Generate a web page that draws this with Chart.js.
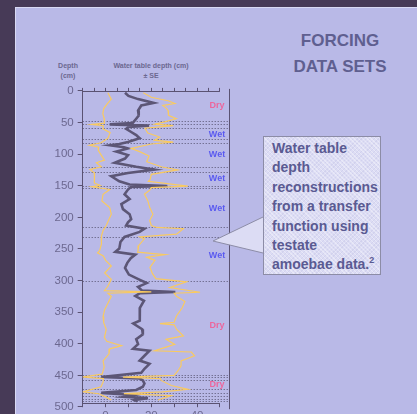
<!DOCTYPE html>
<html>
<head>
<meta charset="utf-8">
<script src="https://cdn.jsdelivr.net/npm/chart.js@4.4.0/dist/chart.umd.min.js"></script>
<style>
  html, body { margin:0; padding:0; }
  body { width:417px; height:414px; background:#473a57; position:relative; overflow:hidden;
         font-family:"Liberation Sans", Arial, sans-serif; }
  #panel { position:absolute; left:15px; top:7px; width:420px; height:420px; background:#b9b9e7;
           border-left:1px solid #d9d9f3; border-top:1px solid #d9d9f3; }
  .hdr { position:absolute; color:#6c6890; font-weight:bold; font-size:7px; line-height:10px; text-align:center; }
  #title { position:absolute; left:270px; top:28px; width:140px; text-align:center; color:#5f5f90;
           font-weight:bold; font-size:17px; line-height:26px; }
  #wrap { position:absolute; left:30px; top:80px; width:210px; height:350px; }
  #note { position:absolute; left:263px; top:136px; width:118px; height:139px; box-sizing:border-box;
          border:1px solid #8c8ca6; padding:2px 0 0 8px; color:#5a5a92; font-weight:bold; font-size:14px; line-height:19.4px;
          background-color:#dcdcf4;
          background-image:repeating-linear-gradient(45deg, rgba(255,255,255,.35) 0 1px, transparent 1px 3px),
                           repeating-linear-gradient(-45deg, rgba(190,190,225,.35) 0 1px, transparent 1px 3px); }
  #note sup { font-size:9px; line-height:0; }
  #ptr { position:absolute; left:212px; top:215px; }
</style>
</head>
<body>
<div id="panel"></div>
<div id="title">FORCING<br>DATA SETS</div>
<div class="hdr" style="left:48px;top:61px;width:40px;">Depth<br>(cm)</div>
<div class="hdr" style="left:100px;top:61px;width:102px;">Water table depth (cm)<br>± SE</div>
<div id="wrap"><canvas id="grafico"></canvas></div>
<div id="note">Water table<br>depth<br>reconstructions<br>from a transfer<br>function using<br>testate<br>amoebae data.<sup>2</sup></div>
<svg id="ptr" width="54" height="42">
  <polygon points="51,2 1,26 51,38" fill="#dcdcf4"/>
  <polyline points="51,2 1,26 51,38" fill="none" stroke="#8c8ca6" stroke-width="1"/>
</svg>
<script>
// profundidade (cm) e nivel freatico medio (cm)
var meanDepth = [3, 8, 13, 19, 23, 31, 39, 44, 51, 53, 55, 57, 60, 65, 70, 75, 81, 84, 86, 89, 91, 96, 101.5, 107, 113.6, 120, 124.5, 130, 135, 143, 148, 150.5, 152, 156, 163.5, 171, 179, 187, 195, 203, 208, 213, 218, 223, 231, 239, 249.5, 254.5, 259, 264.5, 272, 280, 290.6, 299, 304, 310, 316, 318, 320, 324.5, 332, 343, 353, 363.5, 368, 377, 385, 392.7, 400.5, 408, 411, 419, 426.6, 431.7, 439.5, 446, 452.6, 455, 458, 463, 468, 473, 477.6, 481, 484, 486, 489, 491];
var meanWt = [8.5, 10, 14.2, 21, 15.6, 14.2, 14.5, 13.4, 11.8, 1.8, 19, 10, 9, 11.2, 13.4, 14.9, 9.8, 6, 2, 8, 9.8, 4.7, 9.8, 8.5, 4, 13.4, 21.4, 9.8, 2.5, 6, 10.5, 27, 11, 9.8, 8.3, 10.5, 6.9, 7.6, 10.5, 11.2, 9.8, 9, 17, 14.9, 8.3, 6.5, 6, 4.3, 13, 11, 9.5, 8.5, 10.2, 15, 18, 14.2, 16, 30.5, 15, 13, 16.8, 15, 15, 14.9, 12.1, 16, 16.3, 13.4, 14.2, 12, 19.2, 17, 14.9, 19.2, 17, 15.6, -1.9, 15, 16.3, 17, 16.3, 13.4, -1.9, 12.7, 8.3, 18.5, 12.7, 14];

// limite inferior (- SE)
var lowDepth = [3, 13, 20, 28, 36, 44, 51, 53, 55, 60, 66, 75, 82, 86, 89, 94, 101.5, 109.5, 113.6, 120, 124.5, 130, 138, 145.6, 149.5, 151.5, 156, 163.5, 174, 184.6, 195, 203, 213, 221, 231, 242, 252.6, 256, 261, 268, 277, 288, 298, 309, 316, 318, 320, 325, 336, 346, 357, 367, 377, 390, 396, 403, 408, 416, 427, 437, 448, 452.6, 455, 460, 468, 476, 479, 484, 489];
var lowWt = [1, 2.5, 0.8, -0.8, -1.2, -0.6, -0.5, -6, -1, -1.1, 2, 1, -2, -7, -3, -3.2, -1.9, -0.5, -4, -1.9, -6.8, -4.8, -4.8, -5, -2.4, -6, 1.8, -1.1, -1.6, 1.8, 2.5, 1.5, 0.3, -1.1, -1.9, -1.8, -2.6, -3.5, -1, 0, 2.5, -0.4, 2.5, 1, -0.5, 20, 1, 2.5, 1, -0.4, -1.1, -0.8, 0.3, -0.5, 0.5, 7, 1.8, 1.5, -1.1, -0.6, -1.5, -9.9, -1, -1, -2, -9.9, -3, 0, 2.5];

// limite superior (+ SE)
var highDepth = [3, 10, 15.6, 20, 23, 28, 31, 38.5, 44, 49, 52.6, 55, 59, 66.6, 73, 78, 81, 84, 91, 96, 103, 112, 120, 125, 132, 140, 143, 150.5, 153, 157, 163.5, 174, 184.6, 195, 205, 213, 216, 218, 226.6, 231, 234, 244.5, 252.6, 255, 259, 263, 268, 279, 289, 297, 302, 311, 318.5, 320, 325, 333, 343, 356, 366, 368, 370, 377, 387.5, 393, 401, 406, 411, 413, 419, 427, 435, 443, 450, 452.6, 455, 458, 466, 472, 476, 479, 482, 489];
var highWt = [16.5, 20, 27.3, 30.3, 25, 26.7, 27.3, 27.5, 30.9, 25.8, 21.6, 29.6, 17.2, 18.5, 23.6, 21.4, 29.6, 20, 11.2, 14.9, 19, 18, 24.3, 31.5, 20, 19.5, 18.7, 36, 20, 19.3, 17, 18.5, 19.3, 20.7, 19.3, 20, 22.3, 34, 31, 15, 17, 14.5, 14.2, 14, 26, 18, 21.6, 19.4, 20.5, 22, 35.4, 28.1, 41.3, 30, 31, 34.7, 33.5, 31, 30, 23.8, 30, 31, 34, 26.5, 30.2, 25.8, 21.4, 37.5, 38.9, 33, 33, 31.6, 30, 7.6, 24, 24.3, 28.7, 36, 25, 8, 28.7, 22.9];

// linhas pontilhadas (limites de zonas) e rotulos das zonas
var zoneLines = [48, 53, 59, 76, 82, 121, 128, 150, 153, 216, 231, 300, 449, 453, 457, 472, 478, 483, 487, 490];
var zoneDepth = [23, 69, 100, 139, 186, 261, 371, 464];
var zoneLabel = ['Dry', 'Wet', 'Wet', 'Wet', 'Wet', 'Wet', 'Dry', 'Dry'];

// eixos
var depthTicks = [0, 50, 100, 150, 200, 250, 300, 350, 400, 450, 500];
var wtTicksTop = [-10, -5, 0, 5, 10, 15, 20, 25, 30, 35, 40, 45, 50];
var wtTicksBottom = [-10, 0, 10, 20, 30, 40, 50];
var wtLabels = [0, 20, 40];

var corEixo = '#5a5272';
var corTexto = '#6c6890';
var fonte = '"Liberation Sans", Arial, sans-serif';

function pontos(ds, vs) {
    return ds.map(function(d, i){ return {x: vs[i], y: d}; });
}
function fixaTicks(lista) {
    return function(s){ s.ticks = lista.map(function(v){ return {value: v}; }); };
}

var extras = {
    id: 'extras',
    beforeDatasetsDraw: function(chart) {
        var ctx = chart.ctx, a = chart.chartArea, y = chart.scales.y;
        ctx.save();
        ctx.strokeStyle = '#55506e';
        ctx.lineWidth = 1;
        ctx.setLineDash([1, 2]);
        zoneLines.forEach(function(d){
            var py = Math.round(y.getPixelForValue(d)) + 0.5;
            ctx.beginPath(); ctx.moveTo(a.left, py); ctx.lineTo(a.right - 1, py); ctx.stroke();
        });
        ctx.restore();
    },
    afterDraw: function(chart) {
        var ctx = chart.ctx, a = chart.chartArea, x = chart.scales.x, y = chart.scales.y;
        ctx.save();
        ctx.strokeStyle = corEixo;
        ctx.lineWidth = 1;
        var x0 = x.getPixelForValue(-10), x1 = x.getPixelForValue(50);
        ctx.beginPath();
        ctx.moveTo(x0, Math.round(a.top) + 0.5); ctx.lineTo(x1, Math.round(a.top) + 0.5);
        ctx.moveTo(x0, Math.round(a.bottom) + 0.5); ctx.lineTo(x1, Math.round(a.bottom) + 0.5);
        ctx.moveTo(Math.round(a.right) - 0.5, a.top - 2); ctx.lineTo(Math.round(a.right) - 0.5, a.bottom + 6);
        ctx.stroke();
        ctx.font = 'bold 9px ' + fonte;
        ctx.textAlign = 'center';
        ctx.textBaseline = 'middle';
        zoneDepth.forEach(function(d, i){
            ctx.fillStyle = zoneLabel[i] === 'Dry' ? '#ec679d' : '#5b5bf0';
            ctx.fillText(zoneLabel[i], x.getPixelForValue(48.7), y.getPixelForValue(d));
        });
        ctx.restore();
    }
};

var ctx = document.getElementById('grafico').getContext('2d');
window.grafico = new Chart(ctx, {
    type: 'scatter',
    data: {
        datasets: [{
            label: '- SE',
            data: pontos(lowDepth, lowWt),
            showLine: true, borderColor: '#f9ca60', borderWidth: 1.2, pointRadius: 0, tension: 0
        },{
            label: '+ SE',
            data: pontos(highDepth, highWt),
            showLine: true, borderColor: '#f9ca60', borderWidth: 1.2, pointRadius: 0, tension: 0
        },{
            label: 'Water table depth',
            data: pontos(meanDepth, meanWt),
            showLine: true, borderColor: '#5c5676', borderWidth: 2.6, pointRadius: 0, tension: 0
        }]
    },
    options: {
        responsive: true,
        maintainAspectRatio: false,
        animation: false,
        devicePixelRatio: 1,
        layout: { padding: { left: 0, right: 10, top: 0, bottom: 0 }, autoPadding: false },
        plugins: { legend: { display: false }, tooltip: { enabled: false } },
        scales: {
            x: {
                type: 'linear', position: 'bottom', min: -10, max: 54.4,
                afterBuildTicks: fixaTicks(wtTicksBottom),
                afterFit: function(s){ s.height = 26.8; },
                ticks: {
                    autoSkip: false, maxRotation: 0, padding: 2, color: corTexto,
                    font: { family: fonte, size: 11.5 },
                    callback: function(v){ return wtLabels.indexOf(v) >= 0 ? v : ''; }
                },
                grid: { drawOnChartArea: false, tickLength: 4, color: corEixo },
                border: { display: false }
            },
            xTop: {
                type: 'linear', position: 'top', min: -10, max: 54.4,
                afterBuildTicks: fixaTicks(wtTicksTop),
                afterFit: function(s){ s.height = 7; },
                ticks: { display: false, autoSkip: false },
                grid: { drawOnChartArea: false, tickLength: 3, color: corEixo },
                border: { display: false }
            },
            y: {
                type: 'linear', reverse: true, min: 0, max: 494,
                afterBuildTicks: fixaTicks(depthTicks),
                afterFit: function(s){ s.width = 52.7; },
                ticks: { autoSkip: false, padding: 4, color: corTexto, font: { family: fonte, size: 11.5 } },
                grid: { drawOnChartArea: false, tickLength: 5, color: corEixo },
                border: { color: corEixo, width: 1 }
            }
        }
    },
    plugins: [extras]
});
</script>
</body>
</html>
